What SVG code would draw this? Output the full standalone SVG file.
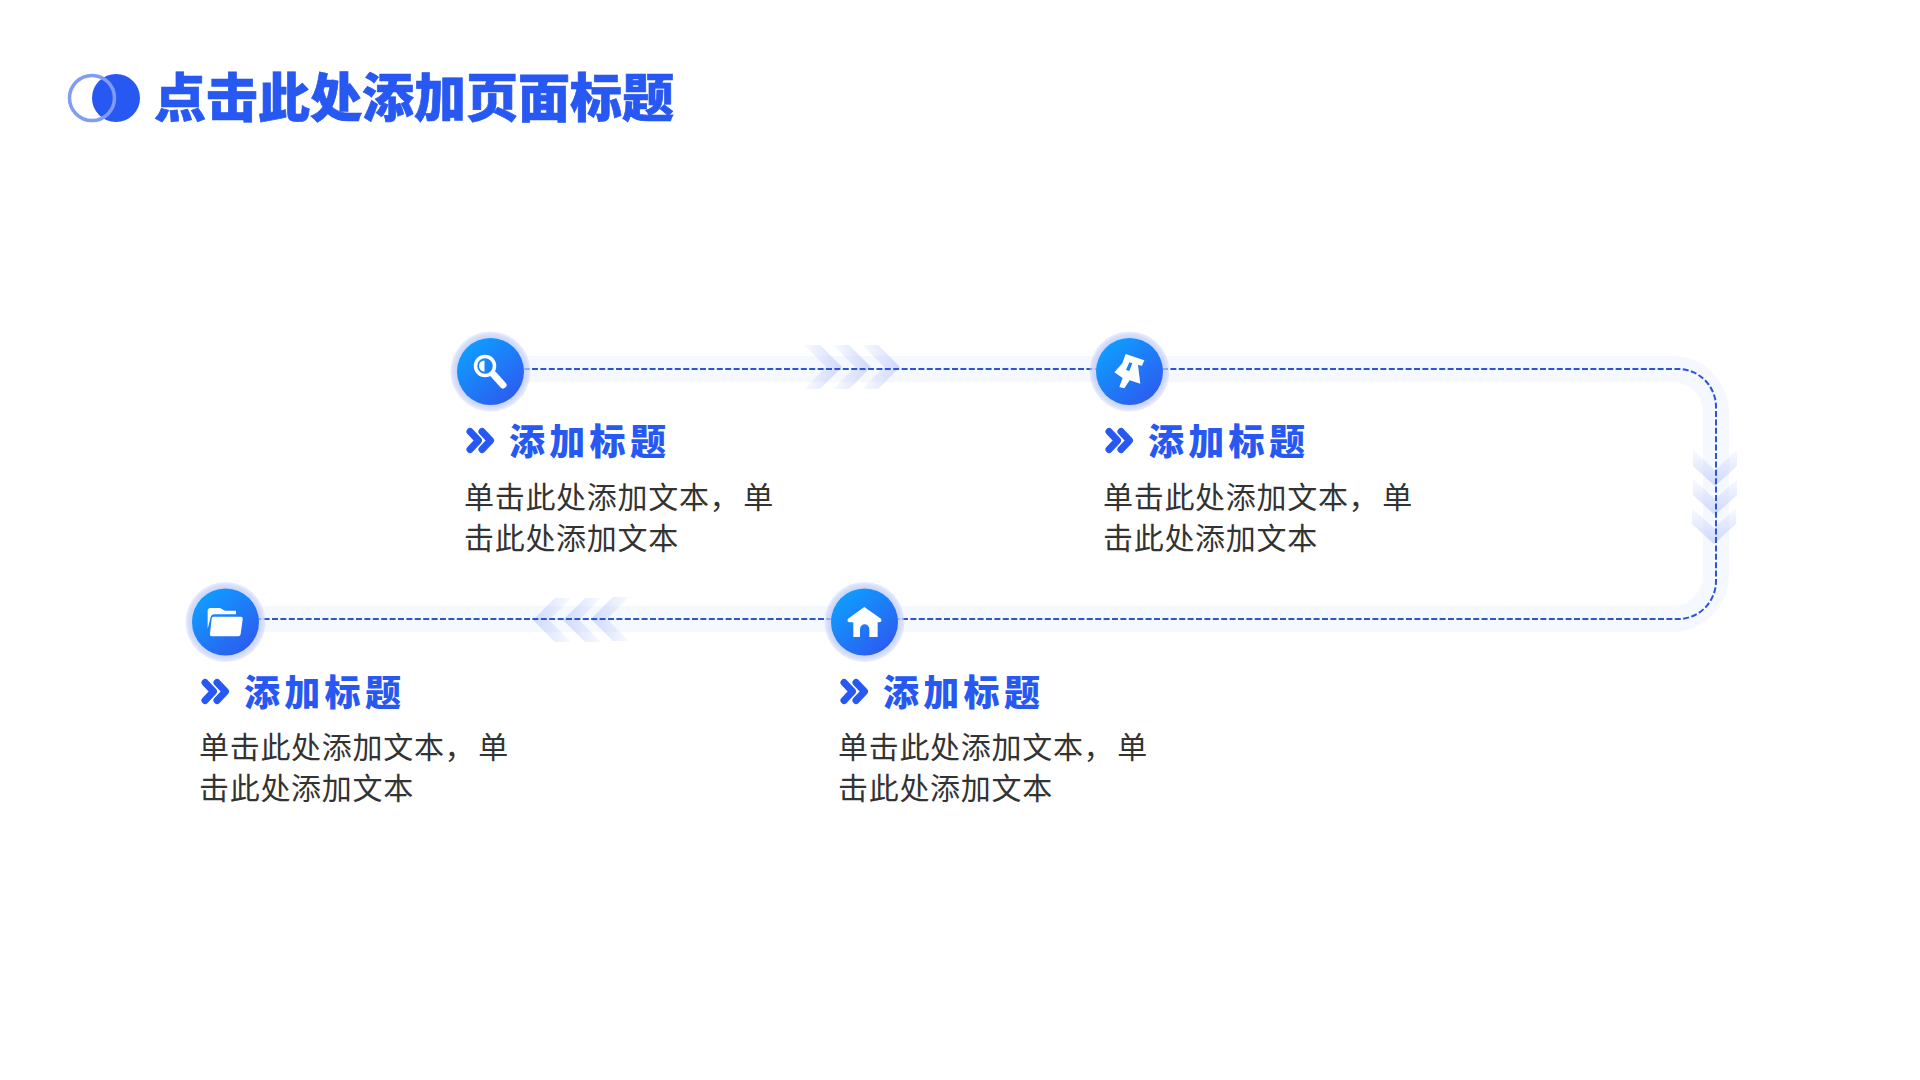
<svg xmlns="http://www.w3.org/2000/svg" xmlns:xlink="http://www.w3.org/1999/xlink" width="1920" height="1080" viewBox="0 0 1920 1080">
<style>
text{font-family:"Noto Sans CJK SC","Noto Sans",sans-serif}
.title{font-size:52px;font-weight:900;fill:#2858f2;stroke:#2858f2;stroke-width:.7px}
.head{font-size:36px;font-weight:900;fill:#2858f2;letter-spacing:4.3px}
.body{font-size:30px;font-weight:400;fill:#333;letter-spacing:.7px}
.band{fill:none;stroke:#f6f8ff;stroke-width:26}
.dash{fill:none;stroke:#2a55d9;stroke-width:2;stroke-dasharray:6 2.4}
.dbl{fill:none;stroke:#2858f2;stroke-width:7;stroke-linecap:round;stroke-linejoin:round}
.ic{fill:#fff}
</style>
<defs>
<linearGradient id="disc" x1="0.15" y1="0.1" x2="0.85" y2="0.9"><stop offset="0" stop-color="#0f9dff"/><stop offset="1" stop-color="#2c5cf0"/></linearGradient>
<radialGradient id="halo"><stop offset="0.8" stop-color="#b9c7f8" stop-opacity=".8"/><stop offset="0.92" stop-color="#c3cff9" stop-opacity=".7"/><stop offset="1" stop-color="#d5ddfb" stop-opacity=".5"/></radialGradient>
<linearGradient id="fadeR" x1="0" y1="0" x2="1" y2="0"><stop offset="0" stop-color="#c3d0fa" stop-opacity="0.1"/><stop offset="1" stop-color="#bccbfa" stop-opacity="0.7"/></linearGradient>
<linearGradient id="fadeL" x1="1" y1="0" x2="0" y2="0"><stop offset="0" stop-color="#c3d0fa" stop-opacity="0.1"/><stop offset="1" stop-color="#bccbfa" stop-opacity="0.7"/></linearGradient>
<linearGradient id="fadeD" x1="0" y1="0" x2="0" y2="1"><stop offset="0" stop-color="#c3d0fa" stop-opacity="0.1"/><stop offset="1" stop-color="#bccbfa" stop-opacity="0.7"/></linearGradient>
<path id="chevR" d="M0 -22H16L38 0L16 22H0L22 0Z" fill="url(#fadeR)"/>
<path id="chevL" d="M0 -22H-16L-38 0L-16 22H0L-22 0Z" fill="url(#fadeL)"/>
<path id="chevD" d="M-22 0V16L0 36L22 16V0L0 20Z" fill="url(#fadeD)"/>
<path id="dbl" d="M0 3.500L8.500 12.500L0 21.500M12 3.500L20.500 12.500L12 21.500" class="dbl"/>
<g id="base"><circle r="40" fill="url(#halo)"/><circle r="33.500" fill="url(#disc)"/></g>
</defs>
<rect width="1920" height="1080" fill="#fff"/>
<g id="logo">
<circle cx="116" cy="98" r="24" fill="#2858f2"/>
<circle cx="92" cy="98" r="22.500" fill="none" stroke="#7f9cf6" stroke-width="3.500"/>
<text class="title" x="154" y="117">点击此处添加页面标题</text>
</g>
<g id="connectors">
<path class="band" d="M490 369H1672A44 44 0 0 1 1716 413V575A44 44 0 0 1 1672 619H226"/>
<use xlink:href="#chevR" href="#chevR" x="804" y="367"/>
<use xlink:href="#chevR" href="#chevR" x="833" y="367"/>
<use xlink:href="#chevR" href="#chevR" x="862" y="367"/>
<use xlink:href="#chevD" href="#chevD" x="1715" y="450"/>
<use xlink:href="#chevD" href="#chevD" x="1715" y="479"/>
<use xlink:href="#chevD" href="#chevD" x="1714" y="508"/>
<use xlink:href="#chevL" href="#chevL" x="571" y="620"/>
<use xlink:href="#chevL" href="#chevL" x="601" y="620"/>
<use xlink:href="#chevL" href="#chevL" x="629" y="619"/>
<path class="dash" d="M490 369H1678A38 38 0 0 1 1716 407V581A38 38 0 0 1 1678 619H226"/>
</g>
<g id="node-search">
<use xlink:href="#base" href="#base" x="490.500" y="371.500"/>
<circle cx="485" cy="366" r="9.500" fill="none" stroke="#fff" stroke-width="3.500"/>
<path class="ic" d="M484.500 360.500A5.500 5.500 0 0 0 484.500 371.500Z"/>
<path d="M494 375L503 385" fill="none" stroke="#fff" stroke-width="7" stroke-linecap="round"/>
<use xlink:href="#dbl" href="#dbl" x="470" y="428"/>
<text class="head" x="509" y="455">添加标题</text>
<text class="body" x="464" y="508">单击此处添加文本，<tspan dx="3">单</tspan></text>
<text class="body" x="464" y="549">击此处添加文本</text>
</g>
<g id="node-pin">
<use xlink:href="#base" href="#base" x="1129.500" y="371.500"/>
<path class="ic" transform="translate(1080 320) scale(.3333)" fill-rule="evenodd" d="M137 102L193 121L186 137L174 135L181 191L149 181L133 205L118 201L128 174L103 157L127 130ZM148 127L138 150L148 153L157 130Z"/>
<use xlink:href="#dbl" href="#dbl" x="1109" y="428"/>
<text class="head" x="1148" y="455">添加标题</text>
<text class="body" x="1103" y="508">单击此处添加文本，<tspan dx="3">单</tspan></text>
<text class="body" x="1103" y="549">击此处添加文本</text>
</g>
<g id="node-home">
<use xlink:href="#base" href="#base" x="864.500" y="622"/>
<path class="ic" transform="translate(810 570) scale(.3333)" d="M163 111L213 146Q218 156 207 157H203V201H178V177A14 14 0 0 0 150 177V201H130V157H120Q109 156 114 146Z"/>
<use xlink:href="#dbl" href="#dbl" x="844" y="679"/>
<text class="head" x="883" y="706">添加标题</text>
<text class="body" x="838" y="758">单击此处添加文本，<tspan dx="3">单</tspan></text>
<text class="body" x="838" y="799">击此处添加文本</text>
</g>
<g id="node-folder">
<use xlink:href="#base" href="#base" x="225.500" y="622"/>
<path class="ic" transform="translate(170 570) scale(.3333)" d="M113 176V122Q113 114 121 114H150L165 122H198V133H131Q124 133 122 141Z"/>
<path class="ic" transform="translate(170 570) scale(.3333)" d="M131 140H212Q219 140 218 148L212 192Q211 199 205 199H125Q119 199 120 192L125 146Q126 140 131 140Z"/>
<use xlink:href="#dbl" href="#dbl" x="205" y="679"/>
<text class="head" x="244" y="706">添加标题</text>
<text class="body" x="199" y="758">单击此处添加文本，<tspan dx="3">单</tspan></text>
<text class="body" x="199" y="799">击此处添加文本</text>
</g>
</svg>
